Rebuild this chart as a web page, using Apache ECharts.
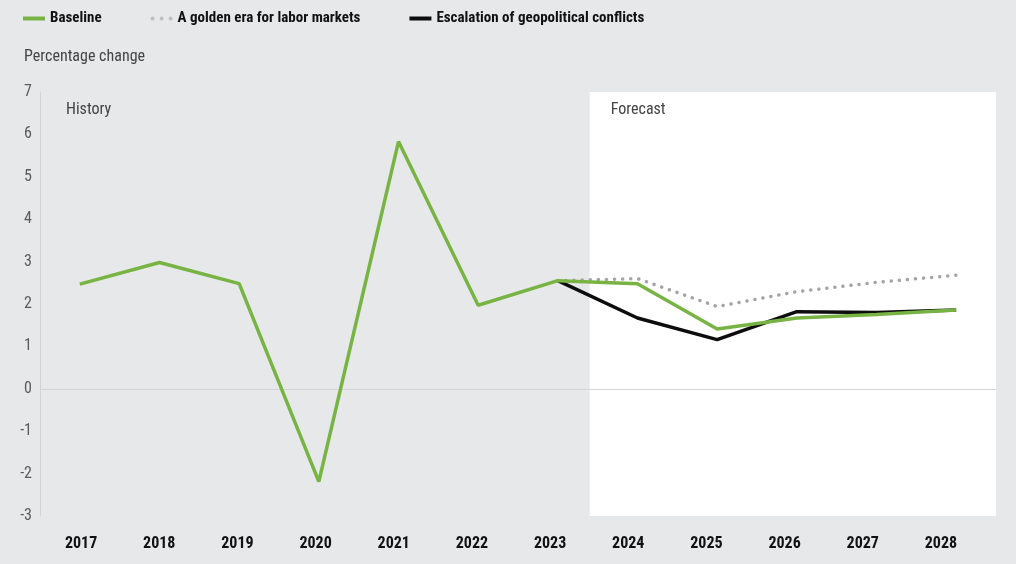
<!DOCTYPE html>
<html>
<head>
<meta charset="utf-8">
<script src="https://cdn.jsdelivr.net/npm/echarts@6/dist/echarts.min.js"></script>
<style>
  html, body { margin: 0; padding: 0; background: #e7e8ea; }
  #chart { width: 1016px; height: 564px; }
</style>
</head>
<body>
<div id="chart"></div>
<script>
// Annual percentage change, history and scenario forecasts
const years = ['2017', '2018', '2019', '2020', '2021', '2022', '2023', '2024', '2025', '2026', '2027', '2028'];
const baseline = [2.47, 2.98, 2.48, -2.19, 5.83, 1.97, 2.55, 2.48, 1.41, 1.67, 1.75, 1.86];
const goldenEra = [null, null, null, null, null, null, 2.55, 2.60, 1.94, 2.29, 2.51, 2.68];
const escalation = [null, null, null, null, null, null, 2.55, 1.67, 1.16, 1.82, 1.80, 1.86];
const yTicks = { min: -3, max: 7, step: 1 };
// Shaded periods in year-index units (0 = 2017)
const historySpan = [-0.5, 6.4];
const forecastSpan = [6.4, 11.5];

const FONT = "'Liberation Sans Narrow', 'Roboto Condensed', 'DejaVu Sans Condensed', Roboto, sans-serif";
const GREEN = '#78b444';
const GREY = '#a3a4a6';
const BLACK = '#0d0d0d';
const DOTS_ICON = 'path://M0,2a2,2 0 1,0 4,0a2,2 0 1,0 -4,0M9,2a2,2 0 1,0 4,0a2,2 0 1,0 -4,0M18,2a2,2 0 1,0 4,0a2,2 0 1,0 -4,0';

const chart = echarts.init(document.getElementById('chart'), null, { renderer: 'canvas' });

chart.setOption({
  backgroundColor: '#e7e8ea',
  animation: false,
  textStyle: { fontFamily: FONT },
  title: {
    text: 'Percentage change',
    left: 19, top: 44,
    textStyle: { fontFamily: FONT, fontSize: 16, fontWeight: 'normal', color: '#444' }
  },
  legend: {
    left: 18, top: 6,
    itemWidth: 22, itemHeight: 4, itemGap: 49,
    textStyle: { fontFamily: FONT, fontSize: 15, fontWeight: 'bold', color: '#111' },
    data: [
      { name: 'Baseline', icon: 'rect' },
      { name: 'A golden era for labor markets', icon: DOTS_ICON, itemStyle: { color: '#bdbec0' } },
      { name: 'Escalation of geopolitical conflicts', icon: 'rect' }
    ]
  },
  grid: [
    { left: 40, right: 20, top: 92, bottom: 48 },
    { left: 42, right: 36, top: 92, bottom: 48 }
  ],
  xAxis: [
    {
      type: 'category', gridIndex: 0, data: years, boundaryGap: true, z: 5,
      axisLine: { show: true, onZero: true, lineStyle: { color: '#d3d4d6', width: 1 } },
      axisTick: { show: false }, axisLabel: { show: false }, splitLine: { show: false }
    },
    {
      type: 'value', gridIndex: 0, min: -0.5, max: 11.5, show: false
    },
    {
      type: 'category', gridIndex: 1, data: years, boundaryGap: true,
      axisLine: { show: false }, axisTick: { show: false }, splitLine: { show: false },
      axisLabel: { margin: 20, fontFamily: FONT, fontSize: 16, fontWeight: 'bold', color: '#111' }
    }
  ],
  yAxis: [
    {
      type: 'value', gridIndex: 0, min: yTicks.min, max: yTicks.max, interval: yTicks.step,
      axisLine: { show: true, onZero: false, lineStyle: { color: '#d3d4d6', width: 1 } },
      axisTick: { show: false }, splitLine: { show: false },
      axisLabel: { margin: 8, fontFamily: FONT, fontSize: 16, color: '#5a5a5a' }
    },
    { type: 'value', gridIndex: 1, min: yTicks.min, max: yTicks.max, show: false }
  ],
  series: [
    {
      name: 'periods', type: 'line', xAxisIndex: 1, yAxisIndex: 0, data: [],
      silent: true, z: 1,
      markArea: {
        silent: true,
        label: {
          position: [26, 10],
          fontFamily: FONT, fontSize: 16, color: '#444'
        },
        data: [
          [{ name: 'History', xAxis: historySpan[0], itemStyle: { color: 'rgba(0,0,0,0)' } },
           { xAxis: historySpan[1] }],
          [{ name: 'Forecast', xAxis: forecastSpan[0], itemStyle: { color: '#ffffff' },
             label: { position: [21, 10] } },
           { xAxis: forecastSpan[1] }]
        ]
      }
    },
    {
      name: 'A golden era for labor markets', type: 'line', xAxisIndex: 0, yAxisIndex: 0,
      data: goldenEra, symbol: 'none', z: 8, color: GREY,
      lineStyle: { color: GREY, width: 3.5, type: [0.1, 8], cap: 'round' }
    },
    {
      name: 'Escalation of geopolitical conflicts', type: 'line', xAxisIndex: 0, yAxisIndex: 0,
      data: escalation, symbol: 'none', z: 9, color: BLACK,
      lineStyle: { color: BLACK, width: 3.5 }
    },
    {
      name: 'Baseline', type: 'line', xAxisIndex: 0, yAxisIndex: 0,
      data: baseline, symbol: 'none', z: 10, color: GREEN,
      lineStyle: { color: GREEN, width: 3.5 }
    }
  ]
});
</script>
</body>
</html>
